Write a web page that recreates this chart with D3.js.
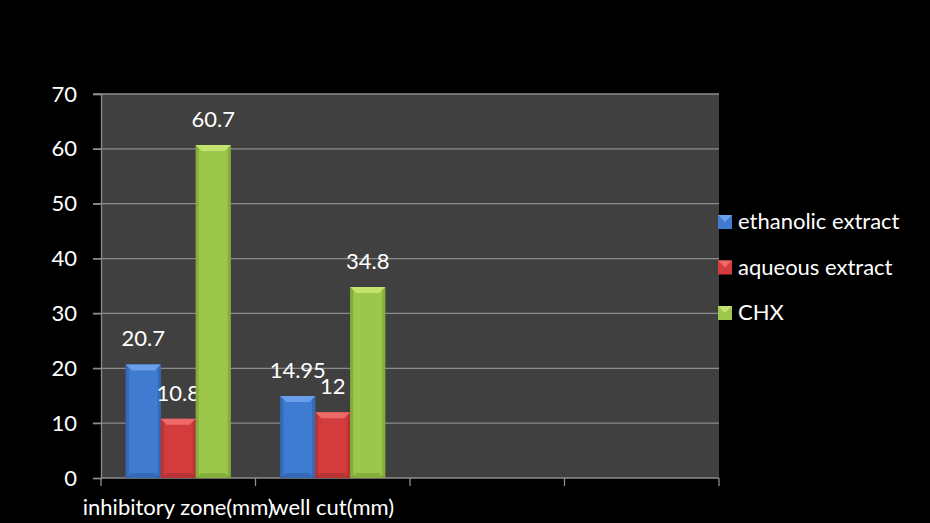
<!DOCTYPE html>
<html><head><meta charset="utf-8">
<script src="https://cdn.jsdelivr.net/npm/d3@7"></script>
<style>html,body{margin:0;padding:0;background:#000;}svg{display:block;}</style>
</head><body>
<script>
const categories = ["inhibitory zone(mm)", "well cut(mm)", "", ""];
const seriesNames = ["ethanolic extract", "aqueous extract", "CHX"];
const ethanolic = [20.7, 14.95];
const aqueous = [10.8, 12];
const chx = [60.7, 34.8];
const yTicks = [0, 10, 20, 30, 40, 50, 60, 70];
const seriesColors = [
  {base:"#3f7bd0", light:"#6aa0ea", dark:"#2a5aa0"},
  {base:"#d23c3c", light:"#ee6a6a", dark:"#9e2a2a"},
  {base:"#9cc74a", light:"#c2e46e", dark:"#6f9630"}
];
const seriesData = [ethanolic, aqueous, chx];

const W = 930, H = 523;
const m = {left:101, right:211, top:94, bottom:45};
const svg = d3.select("body").append("svg").attr("width", W).attr("height", H);
svg.append("rect").attr("width", W).attr("height", H).attr("fill", "#000");

const x0 = d3.scaleBand().domain(d3.range(categories.length)).range([m.left, W - m.right]).paddingInner(0).paddingOuter(0);
const x1 = d3.scaleBand().domain(d3.range(seriesNames.length)).range([0, x0.bandwidth()]).paddingOuter(0.707).paddingInner(0);
const y = d3.scaleLinear().domain([0, 70]).range([H - m.bottom, m.top]);

const font = "Lato, 'Open Sans', sans-serif";
const fs = 22;

// plot area
svg.append("rect").attr("x", m.left).attr("y", m.top).attr("width", W - m.right - m.left).attr("height", H - m.bottom - m.top).attr("fill", "#404040");

// grid lines
svg.append("g").selectAll("line").data(yTicks.filter(d => d > 0)).join("line")
  .attr("x1", m.left - 8).attr("x2", W - m.right).attr("y1", d => y(d)).attr("y2", d => y(d))
  .attr("stroke", "#8c8c8c").attr("stroke-width", 1.3);

// y axis
const yAxis = svg.append("g").attr("transform", `translate(${m.left},0)`)
  .call(d3.axisLeft(y).tickValues(yTicks).tickSize(8).tickPadding(16));
yAxis.select(".domain").attr("stroke", "#8c8c8c").attr("stroke-width", 1.3);
yAxis.selectAll(".tick line").attr("stroke", "#8c8c8c").attr("stroke-width", 1.3);
yAxis.selectAll("text").attr("fill", "#fff").attr("font-size", fs).attr("font-family", font);

// x axis
const xTickVals = d3.range(categories.length + 1).map(i => m.left + i * x0.bandwidth());
const xg = svg.append("g");
xg.append("line").attr("x1", m.left).attr("x2", W - m.right).attr("y1", y(0)).attr("y2", y(0)).attr("stroke", "#8c8c8c").attr("stroke-width", 1.3);
xg.selectAll("line.t").data(xTickVals).join("line").attr("class", "t")
  .attr("x1", d => d).attr("x2", d => d).attr("y1", y(0)).attr("y2", y(0) + 8)
  .attr("stroke", "#8c8c8c").attr("stroke-width", 1.3);
xg.selectAll("text").data(categories).join("text")
  .attr("x", (d, i) => x0(i) + x0.bandwidth() / 2).attr("y", 515)
  .attr("text-anchor", "middle").attr("fill", "#fff").attr("font-size", fs).attr("font-family", font)
  .text(d => d);

// bars
seriesData.forEach((vals, s) => {
  const c = seriesColors[s];
  const g = svg.append("g");
  vals.forEach((v, i) => {
    const bx = x0(i) + x1(s), bw = x1.bandwidth();
    const top = y(v), bot = y(0);
    g.append("rect").attr("x", bx).attr("y", top).attr("width", bw).attr("height", bot - top).attr("fill", c.base);
    g.append("rect").attr("x", bx).attr("y", top).attr("width", 3).attr("height", bot - top).attr("fill", c.dark).attr("opacity", 0.5);
    g.append("rect").attr("x", bx + bw - 3).attr("y", top).attr("width", 3).attr("height", bot - top).attr("fill", c.dark).attr("opacity", 0.5);
    g.append("path").attr("d", `M${bx},${top}L${bx + bw},${top}L${bx + bw - 6},${top + 6}L${bx + 6},${top + 6}Z`).attr("fill", c.light);
    g.append("path").attr("d", `M${bx},${bot}L${bx + bw},${bot}L${bx + bw - 6},${bot - 5}L${bx + 6},${bot - 5}Z`).attr("fill", c.dark).attr("opacity", 0.5);
    g.append("text").attr("x", bx + bw / 2).attr("y", top - 18).attr("text-anchor", "middle")
      .attr("fill", "#fff").attr("font-size", fs).attr("font-family", font).text(v);
  });
});

// legend
const lg = svg.append("g");
seriesNames.forEach((n, i) => {
  const c = seriesColors[i];
  const cy = 222 + i * 45.5;
  lg.append("rect").attr("x", 718).attr("y", cy - 7).attr("width", 14).attr("height", 14).attr("fill", c.base);
  lg.append("path").attr("d", `M718,${cy - 7}L732,${cy - 7}L725,${cy}Z`).attr("fill", c.light);
  lg.append("text").attr("x", 738).attr("y", cy + 7).attr("fill", "#fff").attr("font-size", fs).attr("font-family", font).text(n);
});
</script>
</body></html>
